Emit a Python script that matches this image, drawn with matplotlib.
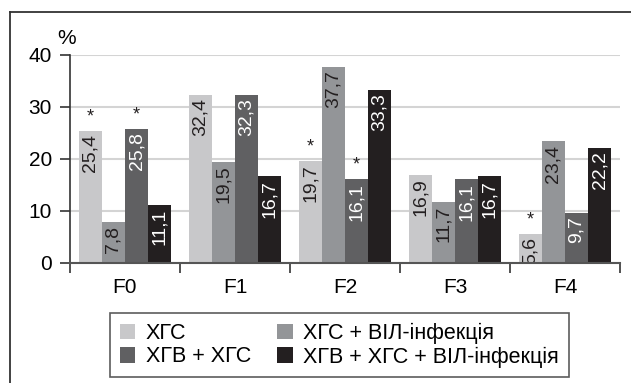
import matplotlib
matplotlib.use("Agg")
import matplotlib.pyplot as plt
import numpy as np
from matplotlib.lines import Line2D
from matplotlib.patches import Patch

categories = ["F0", "F1", "F2", "F3", "F4"]
series_names = ["ХГС", "ХГС + ВІЛ-інфекція", "ХГВ + ХГС", "ХГВ + ХГС + ВІЛ-інфекція"]
values = [
    [25.4, 32.4, 19.7, 16.9, 5.6],
    [7.8, 19.5, 37.7, 11.7, 23.4],
    [25.8, 32.3, 16.1, 16.1, 9.7],
    [11.1, 16.7, 33.3, 16.7, 22.2],
]
labels = [
    ["25,4", "32,4", "19,7", "16,9", "5,6"],
    ["7,8", "19,5", "37,7", "11,7", "23,4"],
    ["25,8", "32,3", "16,1", "16,1", "9,7"],
    ["11,1", "16,7", "33,3", "16,7", "22,2"],
]
stars = [
    [True, False, True, False, True],
    [False, False, False, False, False],
    [True, False, True, False, False],
    [False, False, False, False, False],
]
yticks = [0, 10, 20, 30, 40]

colors = ["#c8c8ca", "#939598", "#606062", "#231f20"]
text_colors = ["#231f20", "#231f20", "#ffffff", "#ffffff"]

plt.rcParams["font.family"] = ["Liberation Sans", "DejaVu Sans"]

fig = plt.figure(figsize=(6.31, 3.83), dpi=100)
W, H = 631, 383
ax = fig.add_axes([70 / W, 1 - 263 / H, 550 / W, 208 / H])

bw = 0.21
x = np.arange(len(categories)) + 0.5
for i, (vals, c) in enumerate(zip(values, colors)):
    pos = x + (i - 1.5) * bw
    ax.bar(pos, vals, width=bw, color=c, zorder=3)
    for xp, v, lab, st in zip(pos, vals, labels[i], stars[i]):
        ax.annotate(lab, (xp, v), xytext=(0, -2.5), textcoords="offset points",
                    rotation=90, ha="center", va="top", fontsize=14,
                    color=text_colors[i], zorder=4, clip_on=True)
        if st:
            ax.annotate("*", (xp, v), xytext=(0, 4), textcoords="offset points",
                        ha="center", va="bottom", fontsize=13, color="#231f20", zorder=4)

ax.set_xlim(0, 5)
ax.set_ylim(0, 40)
ax.set_yticks(yticks)
ax.set_yticklabels([str(t) for t in yticks], fontsize=15)
ax.set_xticks(x)
ax.set_xticklabels(categories, fontsize=15)
ax.set_xticks(np.arange(0, 6), minor=True)
ax.tick_params(axis="x", which="major", length=0, pad=11)
ax.tick_params(axis="x", which="minor", length=7, width=1.2, color="#333333", direction="out")
ax.tick_params(axis="y", length=7, width=1.2, color="#333333", direction="out", pad=6)
ax.yaxis.grid(True, color="#d4d4d4", linewidth=1.5, zorder=0)
ax.set_axisbelow(True)
for s in ["top", "right"]:
    ax.spines[s].set_visible(False)
ax.spines["left"].set_color("#333333")
ax.spines["left"].set_linewidth(1.2)
ax.spines["bottom"].set_color("#555555")
ax.spines["bottom"].set_linewidth(1.5)
ax.spines["bottom"].set_zorder(5)

fig.text(67 / W, 1 - 38 / H, "%", fontsize=15, ha="center", va="center")

handles = [Patch(facecolor=c, edgecolor="none") for c in colors]
order = [0, 2, 1, 3]
leg = fig.legend([handles[k] for k in order], [series_names[k] for k in order],
                 ncol=2, loc="upper left", bbox_to_anchor=(110 / W, 1 - 313 / H),
                 fontsize=15.5, frameon=True, fancybox=False, borderaxespad=0,
                 handlelength=0.72, handleheight=0.72, handletextpad=0.5,
                 columnspacing=1.2, labelspacing=0.12, borderpad=0.45)
leg.get_frame().set_edgecolor("#333333")
leg.get_frame().set_linewidth(1.2)

# outer frame
fig.add_artist(Line2D([10 / W, 10 / W], [0, 1 - 12 / H], transform=fig.transFigure,
                      color="#333333", linewidth=1.3))
fig.add_artist(Line2D([10 / W, 1], [1 - 12 / H, 1 - 12 / H], transform=fig.transFigure,
                      color="#333333", linewidth=1.3))

fig.savefig("out.png", dpi=100)
